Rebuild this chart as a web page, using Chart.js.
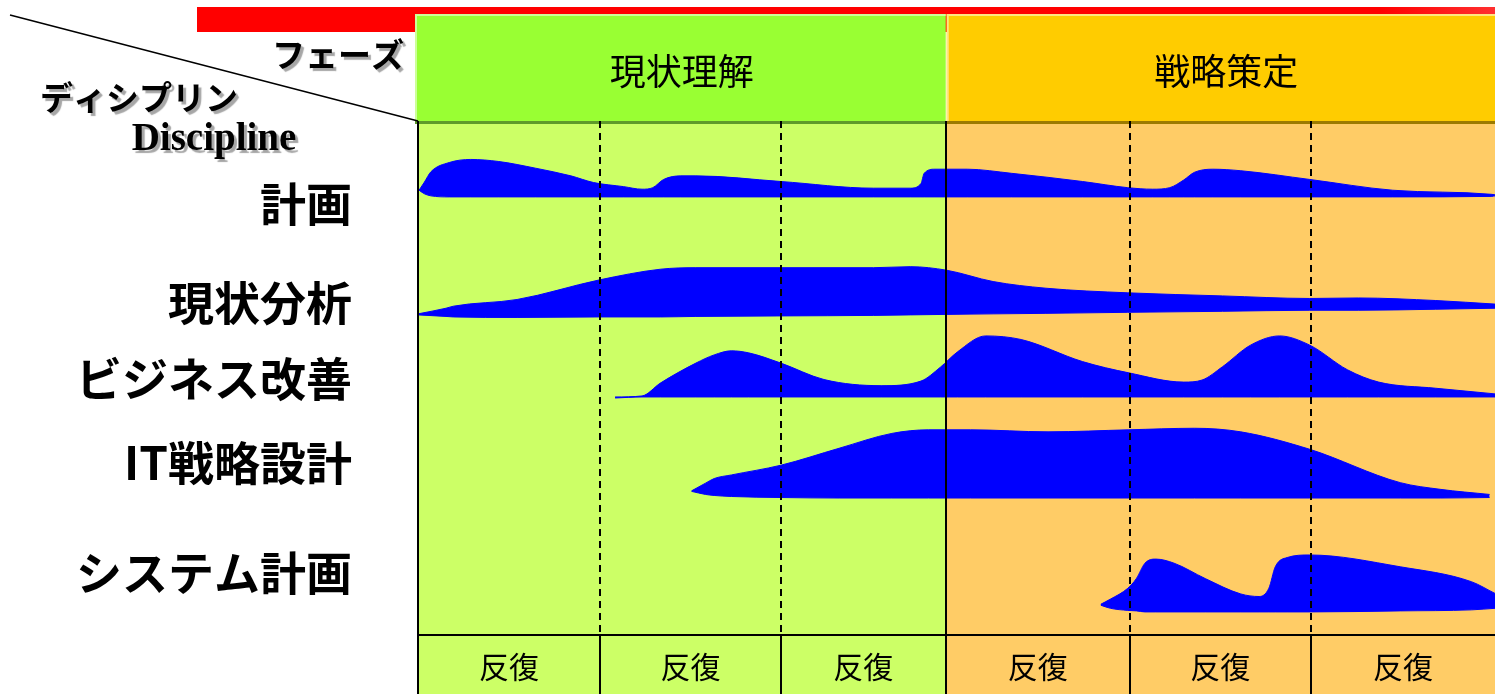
<!DOCTYPE html>
<html>
<head>
<meta charset="utf-8">
<script src="https://cdn.jsdelivr.net/npm/chart.js@4.4.1/dist/chart.umd.min.js"></script>
<style>
  html, body { margin: 0; padding: 0; background: #fff; }
  canvas { display: block; }
</style>
</head>
<body>
<canvas id="humpChart" width="1495" height="694"></canvas>
<script>
// timeline: 0 = start of the first iteration, 100 = right edge
const iterBounds = [0, 16.9, 33.7, 49.0, 66.1, 82.9, 100];
const iterLabel = '反復';
const phaseNames = ['現状理解', '戦略策定'];
const phaseStarts = [0, 49.0];
const phaseEnds = [49.0, 100];
const disciplineNames = ['計画', '現状分析', 'ビジネス改善', 'IT戦略設計', 'システム計画'];

// humps: x on the timeline, top / bottom edge (0 = top of grid, 100 = bottom)
const planX      = [0.1, 0.6, 1.2, 2.9, 4.9, 7.5, 10.9, 14.2, 16.3, 19.1, 20.8, 21.8, 22.8, 24.4, 25.8, 33.7, 42.3, 45.7, 46.7, 47.0, 48.0, 51.0, 55.1, 61.7, 65.9, 68.2, 69.8, 71.1, 72.1, 73.8, 76.4, 82.8, 90.5, 99.7, 100];
const planTop    = [13.3, 11.7, 9.7, 7.9, 7.3, 7.7, 9.0, 10.5, 11.8, 12.6, 13.1, 12.8, 11.2, 10.5, 10.5, 11.6, 12.9, 12.9, 12.0, 10.0, 9.2, 9.2, 10.0, 11.6, 12.8, 13.1, 12.8, 11.3, 9.8, 9.2, 9.5, 11.2, 13.3, 14.1, 14.2];
const planBottom = [13.3, 14.0, 14.4, 14.6, 14.6, 14.6, 14.6, 14.6, 14.6, 14.6, 14.6, 14.6, 14.6, 14.6, 14.6, 14.6, 14.6, 14.6, 14.6, 14.6, 14.6, 14.6, 14.6, 14.6, 14.6, 14.6, 14.6, 14.6, 14.6, 14.6, 14.6, 14.6, 14.6, 14.5, 14.4];

const anaX      = [0, 2.6, 3.3, 9.2, 16.8, 22.5, 25.8, 33.7, 42.3, 45.7, 49.1, 53.4, 58.3, 65.9, 74.7, 82.8, 87.3, 94.5, 100];
const anaTop    = [37.4, 36.3, 35.9, 34.6, 30.8, 28.7, 28.4, 28.4, 28.4, 28.2, 28.9, 31.1, 32.4, 33.3, 33.9, 34.4, 34.3, 34.8, 35.5];
const anaBottom = [37.6, 37.9, 38.0, 38.1, 38.0, 38.0, 37.9, 37.8, 37.7, 37.6, 37.5, 37.4, 37.3, 37.1, 36.9, 36.7, 36.7, 36.5, 36.3];

const bizX      = [18.3, 20.8, 22.5, 25.8, 27.5, 29.1, 30.7, 33.7, 37.7, 43.0, 46.7, 48.5, 50.1, 52.7, 56.0, 61.7, 66.0, 71.1, 72.8, 74.7, 77.3, 80.0, 82.8, 86.3, 89.2, 94.5, 100];
const bizTop    = [53.6, 53.4, 50.9, 47.0, 45.4, 44.6, 45.0, 47.0, 50.2, 51.4, 50.5, 47.8, 44.8, 41.7, 42.4, 46.7, 48.9, 50.7, 50.3, 47.7, 43.5, 41.7, 43.5, 48.3, 50.7, 51.9, 53.0];
const bizBottom = [53.8, 53.6, 53.6, 53.6, 53.6, 53.6, 53.6, 53.6, 53.6, 53.6, 53.6, 53.6, 53.6, 53.6, 53.6, 53.6, 53.6, 53.6, 53.6, 53.6, 53.6, 53.6, 53.6, 53.6, 53.6, 53.6, 53.6];

const itX      = [25.4, 26.7, 27.5, 29.1, 33.7, 39.1, 44.0, 47.4, 51.3, 58.5, 66.0, 72.1, 76.4, 82.8, 91.2, 94.9, 99.5];
const itTop    = [71.9, 70.4, 69.5, 68.8, 66.9, 63.6, 60.7, 60.0, 60.0, 60.4, 60.0, 59.7, 60.4, 63.8, 70.3, 71.6, 72.6];
const itBottom = [72.0, 72.6, 72.8, 73.0, 73.2, 73.3, 73.3, 73.3, 73.3, 73.3, 73.3, 73.3, 73.3, 73.3, 73.3, 73.3, 73.2];

const sysX      = [63.4, 64.3, 65.9, 66.7, 67.5, 68.5, 70.2, 73.1, 76.4, 78.1, 79.0, 79.6, 80.7, 82.8, 91.2, 97.8, 100];
const sysTop    = [94.0, 93.0, 90.9, 89.0, 86.0, 85.2, 86.0, 89.0, 92.0, 92.5, 90.9, 86.7, 84.9, 84.4, 86.7, 89.6, 91.9];
const sysBottom = [94.2, 94.8, 95.2, 95.3, 95.5, 95.5, 95.5, 95.5, 95.5, 95.5, 95.5, 95.5, 95.5, 95.5, 95.3, 95.1, 94.8];

const BLUE = '#0000ff';
const JP = '"Noto Sans CJK JP", "Noto Sans", sans-serif';

function hump(xs, tops, bottoms) {
    return [
        {
            data: xs.map((x, i) => ({ x: x, y: bottoms[i] })),
            borderColor: BLUE, borderWidth: 1, pointRadius: 0, fill: false,
            cubicInterpolationMode: 'monotone'
        },
        {
            data: xs.map((x, i) => ({ x: x, y: tops[i] })),
            borderColor: BLUE, borderWidth: 1, pointRadius: 0,
            fill: '-1', backgroundColor: BLUE,
            cubicInterpolationMode: 'monotone'
        }
    ];
}

const datasets = [].concat(
    hump(planX, planTop, planBottom),
    hump(anaX, anaTop, anaBottom),
    hump(bizX, bizTop, bizBottom),
    hump(itX, itTop, itBottom),
    hump(sysX, sysTop, sysBottom)
);

const plotColors = ['#ccff66', '#ffcc66'];
const headerColors = ['#99ff33', '#ffcc00'];
const headerLight = ['#ccff99', '#ffe680'];
const headerDark = ['#5f9a2a', '#9c7a00'];
const labelY = [204, 303, 379, 463, 573];

function shadowText(ctx, text, x, y) {
    ctx.save();
    ctx.shadowColor = 'rgba(0,0,0,0.35)';
    ctx.shadowOffsetX = 3;
    ctx.shadowOffsetY = 3;
    ctx.shadowBlur = 1;
    ctx.fillText(text, x, y);
    ctx.restore();
}

const decor = {
    id: 'decor',
    beforeDraw(chart) {
        const ctx = chart.ctx;
        const W = chart.width, H = chart.height;
        const area = chart.chartArea;
        const px = v => chart.scales.x.getPixelForValue(v);
        ctx.save();
        ctx.fillStyle = '#ffffff';
        ctx.fillRect(0, 0, W, H);

        // red bar
        const g = ctx.createLinearGradient(1380, 0, W, 0);
        g.addColorStop(0, '#ff0000');
        g.addColorStop(1, '#ff3030');
        ctx.fillStyle = '#ff0000';
        ctx.fillRect(197, 7, 1380 - 197, 25);
        ctx.fillStyle = g;
        ctx.fillRect(1380, 7, W - 1380, 25);

        phaseNames.forEach((name, i) => {
            const x0 = px(phaseStarts[i]), x1 = px(phaseEnds[i]);
            // grid background
            ctx.fillStyle = plotColors[i];
            ctx.fillRect(x0, area.top, x1 - x0, H - area.top);
            // header box
            const hx = i === 0 ? x0 - 3 : x0 + 1;
            ctx.fillStyle = headerColors[i];
            ctx.fillRect(hx, 14, x1 - hx, area.top - 14);
            ctx.fillStyle = headerLight[i];
            ctx.fillRect(hx, 14, x1 - hx, 2);
            ctx.fillRect(hx, 14, 2, area.top - 14);
            ctx.fillStyle = headerDark[i];
            ctx.fillRect(hx, area.top - 1, x1 - hx, 3);
            // header text
            ctx.fillStyle = '#000';
            ctx.font = '36px ' + JP;
            ctx.textAlign = 'center';
            ctx.textBaseline = 'middle';
            ctx.fillText(name, (x0 + x1) / 2 + (i === 1 ? 6 : 0), 71);
        });
        ctx.restore();
    },
    afterDatasetsDraw(chart) {
        const ctx = chart.ctx;
        const W = chart.width, H = chart.height;
        const area = chart.chartArea;
        const px = v => chart.scales.x.getPixelForValue(v);
        ctx.save();
        ctx.strokeStyle = '#000';
        ctx.lineWidth = 2;

        iterBounds.forEach((b, i) => {
            if (i === iterBounds.length - 1) return;
            const x = Math.round(px(b));
            const solid = i === 0 || phaseStarts.indexOf(b) >= 0;
            ctx.setLineDash(solid ? [] : [7, 5]);
            ctx.beginPath();
            ctx.moveTo(x, area.top - 1);
            ctx.lineTo(x, solid ? H : area.bottom);
            ctx.stroke();
            if (!solid) {
                ctx.setLineDash([]);
                ctx.beginPath();
                ctx.moveTo(x, area.bottom);
                ctx.lineTo(x, H);
                ctx.stroke();
            }
        });
        ctx.setLineDash([]);
        ctx.beginPath();
        ctx.moveTo(area.left - 1, area.bottom);
        ctx.lineTo(W, area.bottom);
        ctx.stroke();

        // iteration labels
        ctx.fillStyle = '#000';
        ctx.font = '30px ' + JP;
        ctx.textAlign = 'center';
        ctx.textBaseline = 'middle';
        for (let i = 0; i < iterBounds.length - 1; i++) {
            ctx.fillText(iterLabel, (px(iterBounds[i]) + px(iterBounds[i + 1])) / 2, 667);
        }

        // discipline labels
        ctx.font = 'bold 46px ' + JP;
        ctx.textAlign = 'right';
        disciplineNames.forEach((n, i) => ctx.fillText(n, 352, labelY[i]));

        // corner header
        ctx.lineWidth = 1.5;
        ctx.beginPath();
        ctx.moveTo(10, 15);
        ctx.lineTo(area.left, area.top - 1);
        ctx.stroke();

        ctx.font = 'bold 33px ' + JP;
        ctx.textAlign = 'right';
        shadowText(ctx, 'フェーズ', 404, 54);
        ctx.textAlign = 'left';
        shadowText(ctx, 'ディシプリン', 40, 97);
        ctx.font = 'bold 39px "Liberation Serif", "Times New Roman", serif';
        ctx.textAlign = 'center';
        ctx.textBaseline = 'alphabetic';
        shadowText(ctx, 'Discipline', 214, 150);
        ctx.restore();
    }
};

new Chart(document.getElementById('humpChart'), {
    type: 'line',
    data: { datasets: datasets },
    options: {
        responsive: false,
        devicePixelRatio: 1,
        animation: false,
        events: [],
        layout: { padding: { left: 418, top: 122, right: 0, bottom: 59 } },
        plugins: { legend: { display: false }, tooltip: { enabled: false } },
        scales: {
            x: { type: 'linear', min: 0, max: 100, display: false },
            y: { type: 'linear', min: 0, max: 100, reverse: true, display: false }
        }
    },
    plugins: [decor]
});
</script>
</body>
</html>
